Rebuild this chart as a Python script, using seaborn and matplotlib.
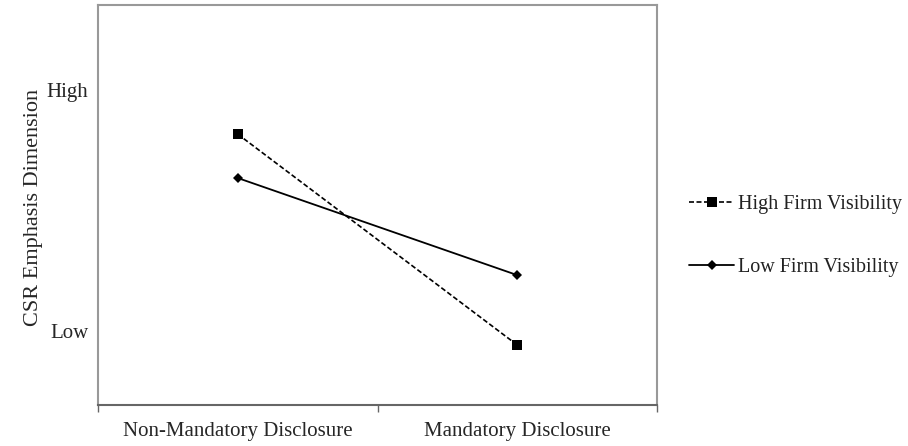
import pandas as pd
import numpy as np
import matplotlib.pyplot as plt
import seaborn as sns

# Values (Low = 0, High = 1 on the y scale)
conditions = ['Non-Mandatory Disclosure', 'Mandatory Disclosure']
high_visibility = [0.817, -0.058]
low_visibility = [0.635, 0.232]
y_tick_values = [0, 1]
y_tick_labels = ['Low', 'High']
series_names = ['High Firm Visibility', 'Low Firm Visibility']

sns.set_style("white")
plt.rcParams['font.family'] = ['Liberation Serif', 'DejaVu Serif']
plt.rcParams['text.color'] = '#222222'

df = pd.DataFrame({
    'condition': conditions * 2,
    'score': high_visibility + low_visibility,
    'series': [series_names[0]] * 2 + [series_names[1]] * 2,
})

fig = plt.figure(figsize=(9.08, 4.46), dpi=100)
ax = fig.add_axes([98 / 908, 1 - 405 / 446, 559 / 908, 400 / 446])

sns.lineplot(data=df[df['series'] == series_names[0]], x='condition', y='score',
             color='black', linestyle=(0, (3, 1.5)), linewidth=1.2,
             marker='s', markersize=7, markeredgewidth=0,
             label=series_names[0], ax=ax, sort=False)
sns.lineplot(data=df[df['series'] == series_names[1]], x='condition', y='score',
             color='black', linestyle='-', linewidth=1.3,
             marker='D', markersize=5.5, markeredgewidth=0,
             label=series_names[1], ax=ax, sort=False)

ax.set_xlim(-0.5, 1.5)
ax.set_ylim(-0.307, 1.353)

# category boundaries get the visible ticks, labels sit at the centres
ax.set_xticks([-0.5, 0.5, 1.5])
ax.set_xticklabels(['', '', ''])
ax.set_xticks([0, 1], minor=True)
ax.set_xticklabels(conditions, minor=True, fontsize=15)
ax.tick_params(axis='x', which='major', direction='out', length=5, width=1,
               color='#666666', bottom=True)
ax.tick_params(axis='x', which='minor', length=0, pad=12)

ax.set_yticks(y_tick_values)
ax.set_yticklabels(y_tick_labels, fontsize=15)
ax.tick_params(axis='y', length=0, pad=7)

ax.set_xlabel('')
ax.set_ylabel('CSR Emphasis Dimension', fontsize=16)
ax.yaxis.set_label_coords(-0.098, 0.495)

for side in ['left', 'top', 'right']:
    ax.spines[side].set_color('#999999')
    ax.spines[side].set_linewidth(1.5)
ax.spines['bottom'].set_color('#666666')
ax.spines['bottom'].set_linewidth(1.5)

ax.legend_.remove()
handles, labels = ax.get_legend_handles_labels()
fig.legend(handles, labels, loc='center left',
           bbox_to_anchor=(689 / 908, 1 - 236 / 446),
           frameon=False, fontsize=14.5, handlelength=2.25,
           handletextpad=0.2, labelspacing=2.2,
           borderpad=0, borderaxespad=0)

plt.savefig('out.png', dpi=100)
plt.close()
